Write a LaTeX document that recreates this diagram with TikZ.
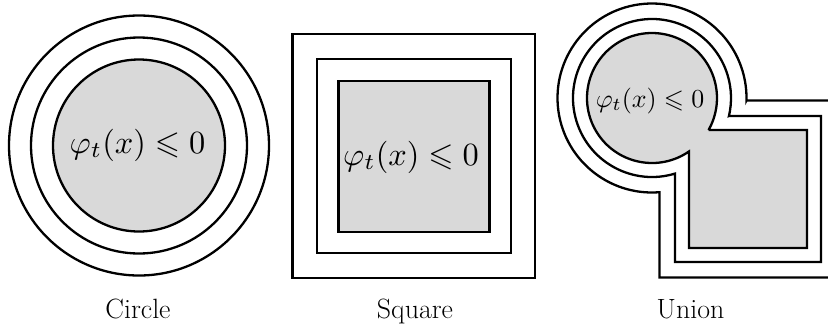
\documentclass[tikz,border=0pt]{standalone}
\usepackage{graphicx}
\usepackage{amssymb}
\begin{document}
\begin{tikzpicture}[x=1bp,y=-1bp,
  ring/.style={line width=2.3bp},
  sqr/.style={line width=2.6bp},
  region/.style={fill=gray!30},
  formula/.style={anchor=base,inner sep=0pt},
  caption/.style={anchor=base,inner sep=0pt,font=\fontsize{28}{32}\selectfont}]
\useasboundingbox (0,0) rectangle (828,328);
\begin{scope}
\clip (0,0) rectangle (828,328);
% Circle
\coordinate (cc) at (139,145.5);
\draw[ring] (cc) circle[radius=130];
\draw[ring] (cc) circle[radius=108];
\draw[ring,region] (cc) circle[radius=86];
\node[formula] (fc) at (137.5,153) {\scalebox{3.25}{$\varphi_t(x)\leqslant 0$}};
% Square
\draw[sqr] (292.7,34) rectangle (535,278);
\draw[sqr] (317,59) rectangle (511,253);
\draw[sqr,region] (338.5,81) rectangle (489.5,232);
\node[formula] (fs) at (411,165) {\scalebox{3.25}{$\varphi_t(x)\leqslant 0$}};
% Union
\foreach \dd/\ufill in {29.5/white,14/white,0/gray!30}{
  \pgfmathsetmacro{\ur}{65+\dd}
  \pgfmathsetmacro{\uh}{32-\dd}
  \pgfmathsetmacro{\uw}{37-\dd}
  \pgfmathsetmacro{\ux}{sqrt(\ur*\ur-\uh*\uh)}
  \pgfmathsetmacro{\uy}{sqrt(\ur*\ur-\uw*\uw)}
  \pgfmathsetmacro{\ta}{atan2(\uh,\ux)+360}
  \pgfmathsetmacro{\tb}{atan2(\uy,\uw)}
  \draw[ring,fill=\ufill] (652+\ux,130-\dd) -- (807+\dd,130-\dd) -- (807+\dd,248+\dd)
    -- (689-\dd,248+\dd) -- (689-\dd,98+\uy) arc[start angle=\tb,end angle=\ta,radius=\ur] -- cycle;
}
\node[formula] (fu) at (650,107) {\scalebox{2.6}{$\varphi_t(x)\leqslant 0$}};
\end{scope}
% captions
\node[caption] (lc) at (138,318) {Circle};
\node[caption] (ls) at (415,318) {Square};
\node[caption] (lu) at (690.5,318) {Union};
\end{tikzpicture}
\end{document}
